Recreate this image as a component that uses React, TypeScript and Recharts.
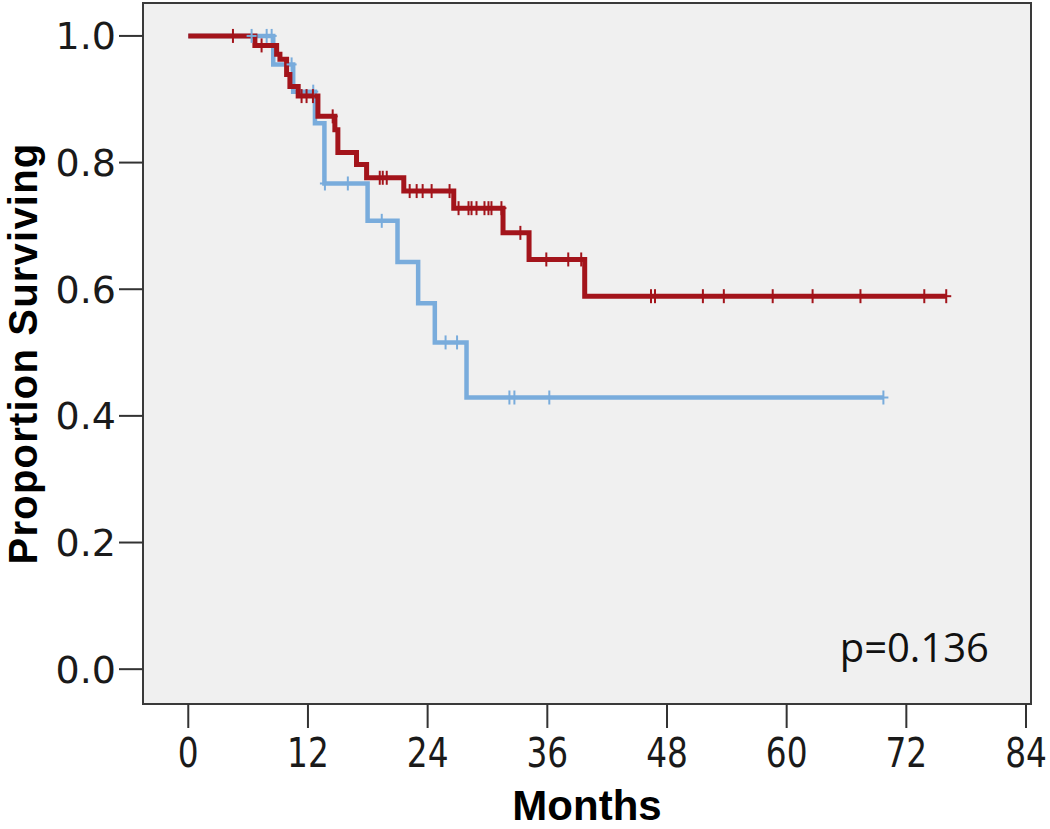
import React from "react";
import {
  ComposedChart,
  Line,
  Scatter,
  XAxis,
  YAxis,
  ReferenceArea,
  Label,
} from "recharts";

// survival steps: month of event and proportion surviving after it
const redTimes = [0, 6.68, 8.86, 9.19, 9.86, 10.19, 11.02, 13.0, 14.7, 15.0, 16.87, 17.88, 21.61, 26.62, 31.56, 34.17, 39.75, 76.0];
const redSurv = [1.0, 0.985, 0.971, 0.963, 0.939, 0.92, 0.905, 0.873, 0.852, 0.816, 0.797, 0.776, 0.755, 0.728, 0.689, 0.647, 0.589, 0.589];
const redCensored = [4.48, 7.35, 11.36, 11.86, 12.5, 14.48, 19.2, 19.5, 19.9, 22.2, 22.9, 23.5, 24.4, 26.2, 27.1, 28.1, 28.4, 28.9, 29.7, 30.1, 30.4, 31.4, 33.3, 35.9, 38.1, 39.4, 46.4, 46.8, 51.6, 53.7, 58.6, 62.6, 67.4, 73.8, 76.0];

const blueTimes = [0, 8.52, 10.52, 12.7, 13.65, 17.98, 20.98, 23.05, 24.72, 27.9, 69.7];
const blueSurv = [1.0, 0.955, 0.912, 0.862, 0.767, 0.708, 0.643, 0.578, 0.516, 0.429, 0.429];
const blueCensored = [6.35, 7.86, 8.36, 10.36, 12.53, 13.7, 16.0, 19.4, 25.8, 26.95, 32.2, 32.7, 36.2, 69.7];

const xTicks = [0, 12, 24, 36, 48, 60, 72, 84];
const yTicks = [0, 0.2, 0.4, 0.6, 0.8, 1.0];
const X_DOMAIN: [number, number] = [-4.54, 84.5];
const Y_DOMAIN: [number, number] = [-0.055, 1.052];

const RED = "#a3141b";
const BLUE = "#79acdc";

const toSteps = (times: number[], surv: number[]) =>
  times.map((t, i) => ({ t, s: surv[i] }));

const survAt = (times: number[], surv: number[], t: number) => {
  let s = surv[0];
  for (let i = 0; i < times.length; i++) {
    if (times[i] <= t) s = surv[i];
  }
  return s;
};

const toCensors = (censored: number[], times: number[], surv: number[]) =>
  censored.map((t) => ({ t, s: survAt(times, surv, t) }));

const redSteps = toSteps(redTimes, redSurv);
const blueSteps = toSteps(blueTimes, blueSurv);
const redMarks = toCensors(redCensored, redTimes, redSurv);
const blueMarks = toCensors(blueCensored, blueTimes, blueSurv);

const censorShape = (color: string) => (props: any) => {
  const { cx, cy } = props;
  return (
    <g>
      <line x1={cx} x2={cx} y1={cy - 7} y2={cy + 7} stroke={color} strokeWidth={2} />
      <line x1={cx - 5} x2={cx + 5} y1={cy} y2={cy} stroke={color} strokeWidth={2} />
    </g>
  );
};

const tickFont = { fontFamily: "DejaVu Sans", fontSize: 38, fill: "#1a1a1a" };

// narrow, tall digits like the original month labels
const MonthTick = (props: any) => {
  const { x, y, payload } = props;
  return (
    <text
      transform={`translate(${x},${y}) scale(0.8,1)`}
      textAnchor="middle"
      dy="0.74em"
      style={{ fontFamily: "DejaVu Sans", fontSize: 41, fill: "#1a1a1a" }}
    >
      {payload.value}
    </text>
  );
};

export default function App() {
  return (
    <div style={{ position: "absolute", left: 0, top: 0, background: "#fff" }}>
      <ComposedChart
        width={1050}
        height={829}
        margin={{ top: 3, right: 19, bottom: 0, left: 0 }}
      >
        <XAxis
          type="number"
          dataKey="t"
          domain={X_DOMAIN}
          ticks={xTicks}
          allowDataOverflow
          axisLine={false}
          tickLine={{ stroke: "#333", strokeWidth: 2 }}
          tickSize={24}
          tickMargin={9}
          height={125}
          tick={<MonthTick />}
          interval={0}
        >
          <Label
            value="Months"
            position="insideBottom"
            offset={9}
            style={{
              fontFamily: "'Liberation Sans', Arial",
              fontWeight: "bold",
              fontSize: 42,
              fill: "#000",
            }}
          />
        </XAxis>
        <YAxis
          type="number"
          dataKey="s"
          domain={Y_DOMAIN}
          ticks={yTicks}
          allowDataOverflow
          axisLine={false}
          tickLine={{ stroke: "#333", strokeWidth: 2 }}
          tickSize={24}
          tickMargin={3}
          width={143}
          tick={tickFont}
          tickFormatter={(v: number) => v.toFixed(1)}
          interval={0}
        >
          <Label
            content={(p: any) => {
              const vb = p.viewBox || {};
              const cy = (vb.y ?? 0) + (vb.height ?? 0) / 2;
              return (
                <text
                  x={37}
                  y={cy}
                  transform={`rotate(-90 37 ${cy})`}
                  textAnchor="middle"
                  style={{
                    fontFamily: "'Liberation Sans', Arial",
                    fontWeight: "bold",
                    fontSize: 40,
                    letterSpacing: 1.2,
                    fill: "#000",
                  }}
                >
                  Proportion Surviving
                </text>
              );
            }}
          />
        </YAxis>
        <ReferenceArea
          x1={X_DOMAIN[0]}
          x2={X_DOMAIN[1]}
          y1={Y_DOMAIN[0]}
          y2={Y_DOMAIN[1]}
          fill="#f0f0f0"
          fillOpacity={1}
          stroke="#3a3a3a"
          strokeWidth={2}
          ifOverflow="visible"
        >
          <Label
            value="p=0.136"
            position="insideBottomRight"
            offset={42}
            style={{ fontFamily: "'Open Sans'", fontSize: 40, fill: "#111" }}
          />
        </ReferenceArea>
        <Line
          data={blueSteps}
          dataKey="s"
          type="stepAfter"
          stroke={BLUE}
          strokeWidth={4.5}
          dot={false}
          isAnimationActive={false}
        />
        <Line
          data={redSteps}
          dataKey="s"
          type="stepAfter"
          stroke={RED}
          strokeWidth={5}
          dot={false}
          isAnimationActive={false}
        />
        <Scatter
          data={blueMarks}
          dataKey="s"
          shape={censorShape(BLUE)}
          isAnimationActive={false}
        />
        <Scatter
          data={redMarks}
          dataKey="s"
          shape={censorShape(RED)}
          isAnimationActive={false}
        />
      </ComposedChart>
    </div>
  );
}
